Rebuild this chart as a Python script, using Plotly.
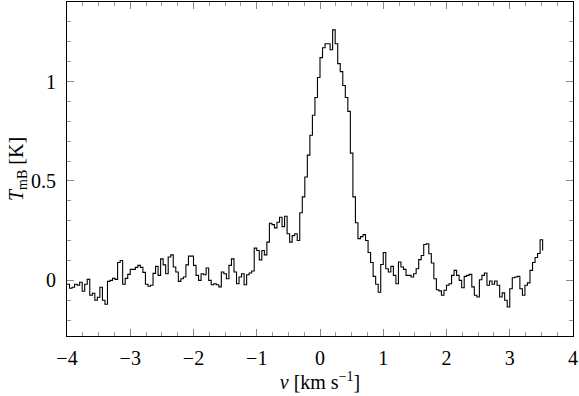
import numpy as np
import plotly.graph_objects as go

# spectrum channels (km/s)
v_start = -4.0
chan_width = 0.04

# main beam brightness temperature per channel (K)
T_part1 = [-0.02, -0.04, -0.035, -0.02, -0.025, -0.01, -0.055, -0.02, 0.005, -0.075,
           -0.065, -0.10, -0.085, -0.035, -0.10, -0.12, -0.005, 0.0, 0.01, 0.005,
           0.09, 0.10, -0.02, 0.01, 0.03, 0.055, 0.055, 0.065, 0.075, 0.065,
           0.04, -0.02, -0.03, -0.025, 0.035, 0.07]
T_part2 = [0.025, 0.108, 0.078, 0.033, 0.117, 0.128, 0.067, 0.042, -0.005, 0.008,
           0.017, 0.078, 0.122, 0.122, 0.075, 0.025, 0.0, 0.033, 0.028, 0.062,
           0.0, -0.022, -0.017, -0.022, -0.033, 0.042, 0.033, 0.008, 0.075, 0.108,
           0.042, -0.017, 0.017, 0.033, -0.022, 0.028, 0.037]
T_part3 = [0.047, 0.162, 0.15, 0.103, 0.15, 0.128, 0.192, 0.287, 0.28, 0.264,
           0.292, 0.317, 0.27, 0.322, 0.234, 0.192, 0.225, 0.234, 0.20, 0.34]
T_peak = [0.42, 0.52, 0.63, 0.73, 0.83, 0.92, 1.02, 1.12, 1.17, 1.19,
          1.19, 1.16, 1.26, 1.19, 1.09, 1.05, 0.98, 0.92, 0.85, 0.64,
          0.42, 0.29, 0.21, 0.22, 0.23, 0.20, 0.14, 0.09, 0.02, -0.02]
T_part4 = [-0.06, 0.08, 0.14, 0.058, 0.042, 0.07, 0.025, -0.017, 0.092, 0.067,
           0.055, 0.025, 0.025, 0.017, 0.033, 0.058, 0.104, 0.125, 0.18, 0.184,
           0.134, 0.087, 0.008, -0.047, -0.053, -0.075, -0.05, -0.025, -0.017, 0.025,
           0.05, 0.025, 0.0, -0.037, 0.02, 0.025, 0.03, -0.033, -0.075, -0.084,
           0.003, 0.025, 0.037, -0.025, -0.003, -0.02, -0.003, -0.025, -0.084, -0.063,
           -0.1, -0.134, -0.042, 0.013, 0.017, 0.02, -0.042, -0.075, -0.025, -0.013,
           0.05, 0.09, 0.115, 0.135, 0.204, 0.15]

T_mb = T_part1 + T_part2 + T_part3 + T_peak + T_part4
v = v_start + chan_width * np.arange(len(T_mb))

font = "Liberation Serif"

fig = go.Figure()
fig.add_trace(go.Scatter(x=v, y=T_mb, mode="lines", line_shape="hv",
                         line=dict(color="black", width=1.1), showlegend=False))

axis_common = dict(showline=True, linecolor="black", linewidth=1, mirror="ticks",
                   ticks="inside", tickcolor="#888", tickwidth=1, ticklen=7,
                   showgrid=False, zeroline=False, automargin=False,
                   tickfont=dict(family=font, size=20, color="black"))

fig.update_xaxes(range=[-4, 4], dtick=1, tick0=0,
                 minor=dict(dtick=0.25, ticks="inside", ticklen=4, tickcolor="#999"),
                 title=dict(text="<i>v</i> [km s<sup>−1</sup>]", font=dict(family=font, size=20, color="black"), standoff=5),
                 ticklabelstandoff=4, **axis_common)
fig.update_yaxes(range=[-0.28, 1.40], dtick=0.5, tick0=0,
                 minor=dict(dtick=0.1, ticks="inside", ticklen=4, tickcolor="#999"),
                 title=dict(text="<i>T</i><sub>mB</sub> [K]", font=dict(family=font, size=20, color="black"), standoff=2),
                 ticklabelstandoff=6, **axis_common)

fig.update_layout(width=579, height=396, plot_bgcolor="white", paper_bgcolor="white",
                  font=dict(family=font), margin=dict(l=67, r=6, t=2, b=60))

# drop the default page margin so the figure sits at the window corner
fig.write_html("out.html", config={"displayModeBar": False},
               post_script="document.body.style.margin='0';")
